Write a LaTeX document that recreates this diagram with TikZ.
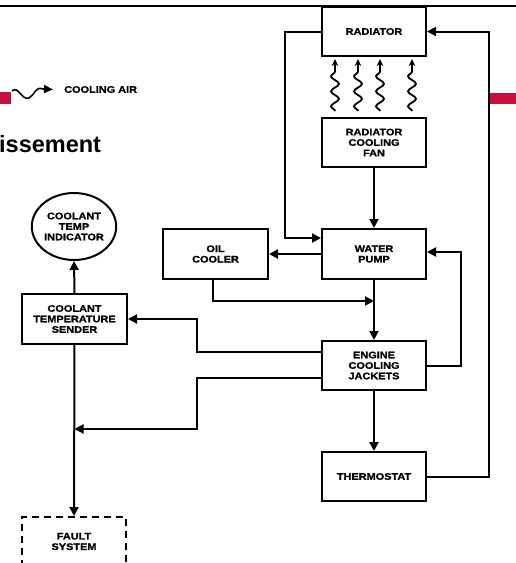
\documentclass[tikz,border=0pt]{standalone}
\usepackage{fontspec}
\setmainfont{Liberation Sans}
\newfontfamily\lbl{Liberation Sans Bold}[FakeStretch=1.15,FakeBold=1.3]
\usetikzlibrary{arrows.meta,calc,decorations.pathmorphing,shapes.geometric}
\definecolor{crim}{RGB}{198,16,60}
\begin{document}
\begin{tikzpicture}[x=1pt,y=-1pt,
  box/.style={draw, line width=2pt, minimum width=104pt, minimum height=49pt, inner sep=1pt, align=center, font=\lbl\fontsize{9.5}{10.5}\selectfont},
  dbox/.style={box, dashed, dash pattern=on 7pt off 5pt},
  oval/.style={draw, line width=2pt, ellipse, minimum width=82pt, minimum height=67pt, inner sep=0pt, align=center, font=\lbl\fontsize{9.5}{10.5}\selectfont},
  arr/.style={line width=2pt, -{Triangle[length=9pt,width=9pt]}},
  wavy/.style={line width=1.8pt, decorate, decoration={snake, amplitude=4pt, segment length=15pt, post length=7pt}, -{Stealth[length=7pt,width=6.5pt]}}]
\useasboundingbox (0,0) rectangle (516,563);
\clip (0,0) rectangle (516,563);

% header decorations
\draw[line width=2.5pt] (0,6) -- (516,6);
\fill[crim] (0,92) rectangle (11,104);
\fill[crim] (490,93) rectangle (516,104);
\node[anchor=base west, inner sep=0pt, font=\bfseries\fontsize{23.5}{26}\selectfont] (title) at (-1,152) {issement};

% legend
\coordinate (lgs) at (12,91);
\node[anchor=west, inner sep=0pt, font=\lbl\fontsize{9.5}{10.5}\selectfont] (lgt) at (64,89.5) {COOLING AIR};
\draw[line width=1.6pt, -{Triangle[length=9pt,width=8pt]}] (lgs) .. controls (18,85) and (22,101) .. (29,98) .. controls (35,95) and (35,86) .. (43,89) -- (lgt.west -| 53,0);

% nodes
\node[box] (rad) at (374,31.5) {RADIATOR};
\node[box] (fan) at (374,142.5) {RADIATOR\\COOLING\\FAN};
\node[box, minimum height=50pt] (pump) at (374,254) {WATER\\PUMP};
\node[box, minimum width=105pt, minimum height=50pt] (oil) at (215.5,254) {OIL\\COOLER};
\node[box] (eng) at (374,365.5) {ENGINE\\COOLING\\JACKETS};
\node[box] (thermo) at (374,476.5) {THERMOSTAT};
\node[box, minimum width=105pt, minimum height=50pt] (sender) at (74.5,319) {COOLANT\\TEMPERATURE\\SENDER};
\node[oval] (ind) at (74,226.5) {COOLANT\\TEMP\\INDICATOR};
\node[dbox] (fault) at (74,541.5) {FAULT\\SYSTEM};

% cooling air waves
\foreach \xx in {335,358,380,412} {
  \draw[wavy] (\xx,111) -- (\xx,59);
}

% connectors
\draw[arr] (rad.west) -- ++(-36,0) |- ($(pump.north west)+(0,10)$);
\draw[arr] (fan.south) -- (pump.north);
\draw[arr] (pump.west) -- (oil.east);
\coordinate (jn) at (374,301);
\draw[arr] ($(oil.south)+(-2.5,0)$) |- (jn);
\draw[arr] (pump.south) -- (eng.north);
\draw[arr] (eng.east) -- ++(34,0) |- ($(pump.east)+(0,-2)$);
\draw[arr] ($(eng.west)+(0,-13.5)$) -- ++(-124,0) |- (sender.east);
\coordinate (mg) at (74.5,429);
\draw[arr] ($(eng.west)+(0,12.5)$) -- ++(-124,0) |- (mg);
\draw[arr] (eng.south) -- (thermo.north);
\draw[arr] (thermo.east) -- ++(62,0) |- (rad.east);
\draw[arr] (sender.north) -- (ind.south);
\draw[arr] (sender.south) -- (fault.north);
\end{tikzpicture}
\end{document}
